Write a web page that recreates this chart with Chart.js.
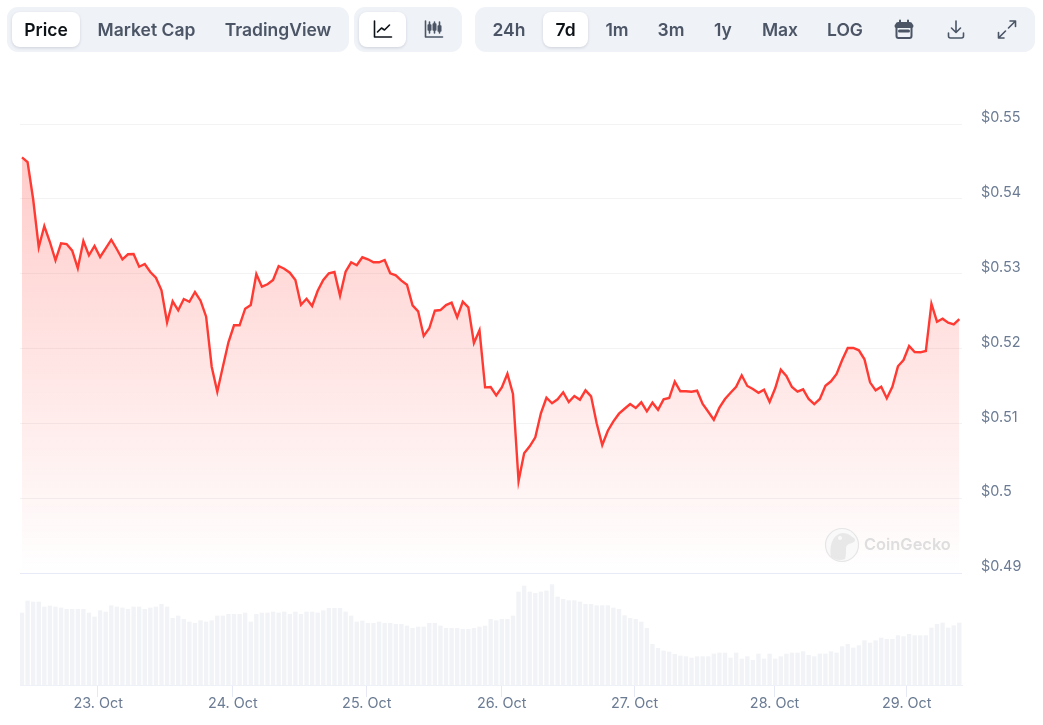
<!DOCTYPE html>
<html>
<head>
<meta charset="utf-8">
<title>Price chart</title>
<script src="https://cdn.jsdelivr.net/npm/chart.js"></script>
<style>
  html, body { margin: 0; padding: 0; background: #fff; overflow: hidden; }
  body { width: 1043px; height: 725px; position: relative; font-family: Inter, sans-serif; }
  canvas { position: absolute; left: 0; top: 0; }
  .group { position: absolute; top: 7px; height: 45px; background: #eff2f7; border-radius: 11px; }
  .pill { position: absolute; top: 12px; height: 35px; background: #fff; border-radius: 8px;
          box-shadow: 0 1px 3px rgba(16, 24, 40, 0.14); }
  .btn { position: absolute; top: 29px; transform: translate(-50%, -50%); font-size: 17.5px;
         font-weight: 600; color: #4b5565; white-space: nowrap; }
  .btn.on { color: #0d1217; }
  .icon { position: absolute; top: 17px; width: 25px; height: 25px; transform: translateX(-50%); }
  .icon * { fill: none; stroke: #4b5565; stroke-width: 1.6; stroke-linecap: round; stroke-linejoin: round; }
  .icon.on * { stroke: #0d1217; }
  #mark { position: absolute; left: 824px; top: 527px; width: 130px; height: 36px; }
  #mark span { position: absolute; left: 40px; top: 7px; font-size: 16.4px; font-weight: 600; color: #dedede; }
</style>
</head>
<body>
<canvas id="priceChart" width="1043" height="725"></canvas>

<div class="group" style="left:7px;width:342px"></div>
<div class="group" style="left:354px;width:108px"></div>
<div class="group" style="left:475px;width:560px"></div>
<div class="pill" style="left:12px;width:68px"></div>
<div class="pill" style="left:359px;width:47px"></div>
<div class="pill" style="left:543px;width:45px"></div>

<span class="btn on" style="left:46px">Price</span>
<span class="btn" style="left:146.500px">Market Cap</span>
<span class="btn" style="left:278px">TradingView</span>
<span class="btn" style="left:509px">24h</span>
<span class="btn on" style="left:565.5px">7d</span>
<span class="btn" style="left:617px">1m</span>
<span class="btn" style="left:671px">3m</span>
<span class="btn" style="left:723px">1y</span>
<span class="btn" style="left:780px">Max</span>
<span class="btn" style="left:845px">LOG</span>

<svg class="icon on" style="left:383px" viewBox="0 0 25 25">
  <path d="M4 4v16h17"/><path d="M7 15l4-4 3 2 5-5"/>
</svg>
<svg class="icon" style="left:434px" viewBox="0 0 25 25">
  <path d="M4 4v16h17"/><path d="M8 5v11M13 5v11M18 5v11"/>
  <path d="M6.8 8h2.4v5H6.8zM11.8 7h2.4v6h-2.4zM16.8 9h2.4v5h-2.4z" style="fill:#4b5565"/>
</svg>
<svg class="icon" style="left:904px" viewBox="0 0 25 25">
  <rect x="5" y="6" width="15" height="15" rx="2" style="stroke-width:2"/>
  <path d="M5 9h15" style="stroke-width:4"/><path d="M8.5 3.5v3M16.5 3.5v3" style="stroke-width:2"/>
  <path d="M8 14h9" style="stroke-width:3"/>
</svg>
<svg class="icon" style="left:956px" viewBox="0 0 25 25">
  <path d="M12.5 4v11M8 11l4.500 4.500L17 11"/><path d="M5 16v3a2 2 0 0 0 2 2h11a2 2 0 0 0 2-2v-3"/>
</svg>
<svg class="icon" style="left:1007px" viewBox="0 0 25 25">
  <path d="M14 11l7-7M15.500 4H21v5.500"/><path d="M11 14l-7 7M9.500 21H4v-5.500"/>
</svg>

<div id="mark">
  <svg width="36" height="36" viewBox="0 0 36 36">
    <circle cx="18" cy="18" r="16.500" fill="#f9f9f9" stroke="#e6e6e6" stroke-width="1.200"/>
    <path d="M7 30C5 18 9 7 19 6c5 0 8 3 11 5 2 2 1 4-2 5-4 1-6 2-6 6 0 4 0 7-1 10-5 2-10 1-14-2z" fill="#e8e8e8"/>
    <circle cx="16" cy="11" r="2" fill="#f9f9f9"/>
  </svg>
  <span>CoinGecko</span>
</div>

<script>
// hourly closes, 22 Oct evening -> 29 Oct
const prices = [
  0.54555, 0.54492, 0.53994, 0.53352, 0.53637, 0.53423, 0.53179, 0.53406, 0.53396, 0.53307,
  0.53072, 0.53436, 0.53245, 0.53370, 0.53223, 0.53339, 0.53454, 0.53326, 0.53192, 0.53259,
  0.53263, 0.53093, 0.53129, 0.53022, 0.52946, 0.52778, 0.52350, 0.52631, 0.52510, 0.52661,
  0.52625, 0.52755, 0.52639, 0.52425, 0.51757, 0.51423, 0.51757, 0.52083, 0.52310, 0.52310,
  0.52532, 0.52581, 0.52995, 0.52826, 0.52858, 0.52915, 0.53102, 0.53066, 0.53013, 0.52915,
  0.52585, 0.52665, 0.52568, 0.52772, 0.52915, 0.53005, 0.53022, 0.52705, 0.53026, 0.53152,
  0.53112, 0.53219, 0.53192, 0.53152, 0.53152, 0.53183, 0.53005, 0.52978, 0.52906, 0.52852,
  0.52577, 0.52497, 0.52167, 0.52270, 0.52505, 0.52514, 0.52581, 0.52612, 0.52417, 0.52625,
  0.52550, 0.52073, 0.52243, 0.51481, 0.51485, 0.51374, 0.51481, 0.51663, 0.51392, 0.50229,
  0.50599, 0.50693, 0.50813, 0.51134, 0.51342, 0.51268, 0.51321, 0.51414, 0.51285, 0.51365,
  0.51316, 0.51441, 0.51361, 0.51000, 0.50710, 0.50901, 0.51027, 0.51129, 0.51195, 0.51258,
  0.51205, 0.51281, 0.51161, 0.51276, 0.51182, 0.51321, 0.51338, 0.51556, 0.51428, 0.51428,
  0.51423, 0.51436, 0.51258, 0.51155, 0.51048, 0.51209, 0.51325, 0.51409, 0.51489, 0.51642,
  0.51499, 0.51459, 0.51409, 0.51449, 0.51285, 0.51468, 0.51717, 0.51632, 0.51485, 0.51423,
  0.51455, 0.51325, 0.51258, 0.51325, 0.51503, 0.51562, 0.51659, 0.51846, 0.52007, 0.52007,
  0.51976, 0.51856, 0.51548, 0.51441, 0.51489, 0.51334, 0.51489, 0.51762, 0.51846, 0.52033,
  0.51953, 0.51949, 0.51966, 0.52599, 0.52358, 0.52398, 0.52345, 0.52323, 0.52394
];

// volume bars, relative units
const volumes = [
  72, 84, 83, 83, 78, 79, 78, 77, 75.7, 75.7,
  75.7, 75.7, 72, 68, 74.3, 73, 79.3, 78, 77, 75.7,
  78, 78, 75.7, 77, 78, 80.7, 78, 66.7, 69, 65.7,
  63, 61.7, 64.3, 63, 64.3, 69, 69, 70.7, 70.7, 70.7,
  72, 63, 70.7, 72, 72, 73, 72, 73, 70.7, 73,
  70.7, 73, 73, 72, 74.3, 76.7, 76.7, 76.7, 73, 69,
  63, 64, 61.7, 61.7, 63, 61.7, 61.7, 60.7, 60.7, 59,
  56.7, 58, 58, 61.7, 61.7, 59, 56.7, 56.7, 56.7, 55.7,
  55.7, 56.7, 58, 59, 65.7, 64.3, 65.7, 65.7, 69, 93,
  99, 93, 91.7, 93, 94, 100.3, 88, 85.7, 84.3, 84.3,
  83, 80.7, 80.7, 79.3, 79.3, 79.3, 77, 75.7, 69.3, 66.7,
  65.7, 63, 56.7, 40.7, 36.7, 34, 33, 30.7, 29, 28.3,
  27, 28.3, 28.3, 28.3, 31, 32, 32, 27, 32, 26,
  28.3, 24.7, 31, 26, 31, 26, 28.3, 31, 32, 32,
  33.3, 29.7, 28.3, 31, 31, 33.3, 32, 38.3, 40.7, 37,
  39.3, 44.3, 42, 44.3, 47, 45.7, 45.7, 49.3, 48.3, 50.7,
  49.3, 49.3, 49.3, 57, 60.7, 62, 57, 59.3, 62
];

const priceTicks = [0.49, 0.5, 0.51, 0.52, 0.53, 0.54, 0.55];
const priceTickLabels = ['$0.49', '$0.5', '$0.51', '$0.52', '$0.53', '$0.54', '$0.55'];
const dayTicks = [13.57, 37.7, 61.7, 85.9, 109.7, 134.8, 158.5];
const dayLabels = ['23. Oct', '24. Oct', '25. Oct', '26. Oct', '27. Oct', '28. Oct', '29. Oct'];

const labelColor = '#6b7b93';
const labelFont = { family: 'Inter', size: 14.4 };

function priceFill(ctx) {
  const { chart } = ctx;
  const y = chart.scales.y;
  // scale has no geometry on the first pass
  if (!chart.chartArea || !y || !Number.isFinite(y.top) || !Number.isFinite(y.bottom)) {
    return 'rgba(255, 58, 51, 0.2)';
  }
  const g = chart.ctx.createLinearGradient(0, y.top, 0, y.bottom);
  g.addColorStop(0, 'rgba(255, 58, 51, 0.28)');
  g.addColorStop(1, 'rgba(255, 58, 51, 0)');
  return g;
}

new Chart(document.getElementById('priceChart'), {
  type: 'line',
  data: {
    datasets: [
      {
        type: 'line',
        label: 'Price',
        data: prices.map((p, i) => ({ x: i, y: p })),
        xAxisID: 'x',
        yAxisID: 'y',
        borderColor: '#ff3a33',
        borderWidth: 2.4,
        backgroundColor: priceFill,
        fill: 'start',
        pointRadius: 0,
        tension: 0,
        order: 1
      },
      {
        type: 'bar',
        label: 'Volume',
        data: volumes.map((v, i) => ({ x: i, y: v })),
        xAxisID: 'x',
        yAxisID: 'y1',
        backgroundColor: '#f1f3f6',
        barThickness: 3.7,
        order: 2
      }
    ]
  },
  options: {
    responsive: false,
    animation: false,
    layout: { padding: { left: 20, top: 124, right: 0, bottom: 0 } },
    plugins: { legend: { display: false }, tooltip: { enabled: false } },
    scales: {
      x: {
        type: 'linear',
        offset: false,
        min: -0.36,
        max: 168.48,
        afterBuildTicks: (axis) => { axis.ticks = dayTicks.map(value => ({ value })); },
        afterFit: (axis) => { axis.height = 40; },
        grid: { offset: false, drawOnChartArea: false, tickLength: 12, tickColor: '#e6e9f5' },
        border: { color: '#eef1f7' },
        ticks: {
          autoSkip: false,
          maxRotation: 0,
          padding: -2,
          labelOffset: 0.5,
          color: labelColor,
          font: labelFont,
          callback: (v, i) => dayLabels[i]
        }
      },
      y: {
        position: 'right',
        stack: 'main',
        stackWeight: 449,
        min: 0.49,
        max: 0.55,
        afterBuildTicks: (axis) => { axis.ticks = priceTicks.map(value => ({ value })); },
        afterFit: (axis) => { axis.width = 81; },
        grid: {
          drawTicks: false,
          color: (c) => (c.index === 0 ? '#e8ebf7' : '#f3f3f4')
        },
        border: { display: false },
        ticks: {
          autoSkip: false,
          padding: 19,
          labelOffset: -6,
          color: labelColor,
          font: labelFont,
          callback: (v, i) => priceTickLabels[i]
        }
      },
      y1: {
        position: 'right',
        stack: 'main',
        stackWeight: 112,
        min: 0,
        max: 112,
        grid: { display: false },
        border: { display: false },
        ticks: { display: false }
      }
    }
  }
});
</script>
</body>
</html>
